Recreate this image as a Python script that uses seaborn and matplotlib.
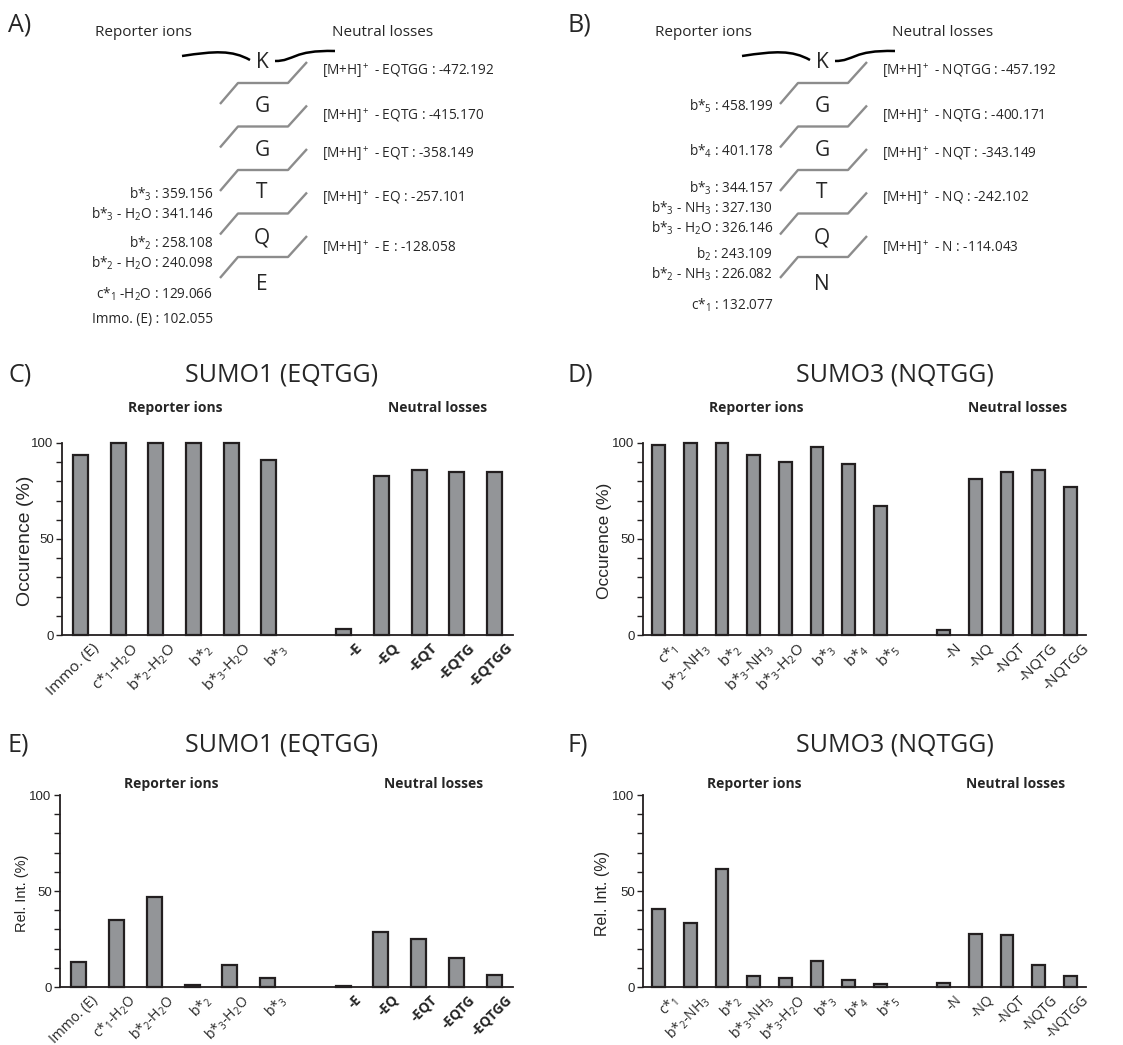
import numpy as np
import pandas as pd
import matplotlib
matplotlib.use('Agg')
import matplotlib.pyplot as plt
import seaborn as sns
from matplotlib.path import Path
from matplotlib.patches import PathPatch
from matplotlib.transforms import ScaledTranslation

sns.set_theme(style='ticks')
plt.rcParams['font.family'] = ['Open Sans', 'DejaVu Sans']
plt.rcParams['mathtext.fontset'] = 'custom'
plt.rcParams['mathtext.rm'] = 'Open Sans'
plt.rcParams['mathtext.it'] = 'Open Sans'
plt.rcParams['mathtext.bf'] = 'Open Sans:bold'

# --- bar chart data (C-F) ---
sumo1_reporters = ['Immo. (E)', r'c*$_1$-H$_2$O', r'b*$_2$-H$_2$O', r'b*$_2$',
                   r'b*$_3$-H$_2$O', r'b*$_3$']
sumo1_losses = ['-E', '-EQ', '-EQT', '-EQTG', '-EQTGG']
sumo1_occ_rep = [93.5, 100, 100, 100, 100, 91]
sumo1_occ_loss = [3.3, 82.6, 86.1, 85, 85]
sumo1_int_rep = [12.9, 34.8, 46.7, 1.0, 11.7, 4.7]
sumo1_int_loss = [0.5, 28.6, 25.1, 15.2, 6.4]

sumo3_reporters = [r'c*$_1$', r'b*$_2$-NH$_3$', r'b*$_2$', r'b*$_3$-NH$_3$',
                   r'b*$_3$-H$_2$O', r'b*$_3$', r'b*$_4$', r'b*$_5$']
sumo3_losses = ['-N', '-NQ', '-NQT', '-NQTG', '-NQTGG']
sumo3_occ_rep = [99.1, 100, 100, 93.6, 90.1, 97.9, 89, 67.2]
sumo3_occ_loss = [2.4, 81.5, 84.8, 85.9, 77]
sumo3_int_rep = [40.8, 33.3, 61.5, 5.6, 4.7, 13.6, 3.7, 1.4]
sumo3_int_loss = [2.3, 27.7, 27.2, 11.7, 5.6]

# --- schematic text (A, B) ---
residues_A = ['K', 'G', 'G', 'T', 'Q', 'E']
residues_B = ['K', 'G', 'G', 'T', 'Q', 'N']
losses_A = [r'[M+H]$^+$ - EQTGG : -472.192', r'[M+H]$^+$ - EQTG : -415.170',
            r'[M+H]$^+$ - EQT : -358.149', r'[M+H]$^+$ - EQ : -257.101',
            r'[M+H]$^+$ - E : -128.058']
losses_B = [r'[M+H]$^+$ - NQTGG : -457.192', r'[M+H]$^+$ - NQTG : -400.171',
            r'[M+H]$^+$ - NQT : -343.149', r'[M+H]$^+$ - NQ : -242.102',
            r'[M+H]$^+$ - N : -114.043']
reporters_A = [r'b*$_3$ : 359.156', r'b*$_3$ - H$_2$O : 341.146', r'b*$_2$ : 258.108',
               r'b*$_2$ - H$_2$O : 240.098', r'c*$_1$ -H$_2$O : 129.066',
               'Immo. (E) : 102.055']
reporters_B = [r'b*$_5$ : 458.199', r'b*$_4$ : 401.178', r'b*$_3$ : 344.157',
               r'b*$_3$ - NH$_3$ : 327.130', r'b*$_3$ - H$_2$O : 326.146',
               r'b$_2$ : 243.109', r'b*$_2$ - NH$_3$ : 226.082', r'c*$_1$ : 132.077']

W, H = 1123, 1045
fig = plt.figure(figsize=(W / 100, H / 100), dpi=100)
ov = fig.add_axes([0, 0, 1, 1])
ov.set_xlim(0, W)
ov.set_ylim(H, 0)
ov.axis('off')

grey = '#8c8c8c'


def schematic(x0, letter, residues, losses, reporters, rep_y):
    ov.text(x0 + 8, 25, letter, fontsize=18, va='center', ha='left')
    ov.text(x0 + 143, 32, 'Reporter ions', fontsize=11, ha='center', va='center')
    ov.text(x0 + 383, 32, 'Neutral losses', fontsize=11, ha='center', va='center')
    # squiggles either side of the K
    verts = [(x0 + 182, 56), (x0 + 215, 51), (x0 + 232, 50), (x0 + 250, 60)]
    ov.add_patch(PathPatch(Path(verts, [Path.MOVETO, Path.CURVE4, Path.CURVE4, Path.CURVE4]),
                           fc='none', ec='black', lw=1.8))
    verts = [(x0 + 275, 61), (x0 + 295, 61), (x0 + 292, 50), (x0 + 335, 51)]
    ov.add_patch(PathPatch(Path(verts, [Path.MOVETO, Path.CURVE4, Path.CURVE4, Path.CURVE4]),
                           fc='none', ec='black', lw=1.8))
    res_y = [62, 107, 150, 193, 238, 285]
    for r, y in zip(residues, res_y):
        ov.text(x0 + 262, y, r, fontsize=15, ha='center', va='center')
    for i in range(5):
        y = 83 + 43.5 * i
        ov.plot([x0 + 220, x0 + 238, x0 + 288, x0 + 307], [y + 21, y, y, y - 21],
                color=grey, lw=1.7, solid_capstyle='butt')
    for t, y in zip(losses, [71, 116, 154, 198, 248]):
        ov.text(x0 + 322, y, t, fontsize=9.8, ha='left', va='center')
    for t, y in zip(reporters, rep_y):
        ov.text(x0 + 213, y, t, fontsize=9.8, ha='right', va='center')


schematic(0, 'A)', residues_A, losses_A, reporters_A, [194, 214, 243, 263, 294, 320])
schematic(560, 'B)', residues_B, losses_B, reporters_B, [106, 151, 188, 208, 228, 254, 274, 305])


def bar_panel(left, right, top, bottom, reporters, losses, rep_vals, loss_vals,
              ylabel, ylabel_size, ylabel_x, bold_losses, tick_size):
    ax = fig.add_axes([left / W, 1 - bottom / H, (right - left) / W, (bottom - top) / H])
    order = reporters + [' '] + losses
    df = pd.DataFrame({'ion': reporters + losses, 'value': rep_vals + loss_vals})
    sns.barplot(data=df, x='ion', y='value', order=order, color='#939598', saturation=1,
                edgecolor='#231f20', linewidth=1.6, width=0.4, ax=ax)
    for p in ax.patches:
        p.set_clip_on(False)
    ax.set_ylim(0, 100)
    ax.set_xlim(-0.5, len(order) - 0.5)
    ax.set_yticks([0, 50, 100])
    ax.set_yticks(range(0, 101, 10), minor=True)
    ax.set_yticklabels(['0', '50', '100'], fontfamily='Liberation Sans', fontsize=9.5)
    ax.tick_params(axis='y', which='both', length=4, width=1, direction='out', pad=2,
                   color='#231f20')
    ax.tick_params(axis='x', length=0, pad=4)
    ax.set_xticks(range(len(order)))
    labs = ax.set_xticklabels(order, rotation=45, ha='right', va='top',
                              rotation_mode='anchor', fontsize=tick_size)
    for i, lb in enumerate(labs):
        lb.set_transform(lb.get_transform() + ScaledTranslation(0.11, 0, fig.dpi_scale_trans))
        if bold_losses and i > len(reporters):
            lb.set_fontweight('bold')
    ax.set_xlabel('')
    ax.set_ylabel('')
    sns.despine(ax=ax)
    for s in ['left', 'bottom']:
        ax.spines[s].set_linewidth(1.3)
        ax.spines[s].set_color('#231f20')
    ax.set_facecolor('none')
    ov.text(ylabel_x, (top + bottom) / 2 + 2, ylabel, rotation=90, ha='center', va='center',
            fontfamily='Liberation Sans', fontsize=ylabel_size)
    return ax


def headers(x0, y0, letter, title, title_x, rep_x, loss_x, head_y):
    ov.text(x0 + 8, y0, letter, fontsize=18, ha='left', va='center')
    ov.text(title_x, y0, title, fontsize=18, ha='center', va='center')
    ov.text(rep_x, head_y, 'Reporter ions', fontsize=10, fontweight='bold', ha='center', va='center')
    ov.text(loss_x, head_y, 'Neutral losses', fontsize=10, fontweight='bold', ha='center', va='center')


headers(0, 375, 'C)', 'SUMO1 (EQTGG)', 282, 175, 438, 408)
headers(560, 375, 'D)', 'SUMO3 (NQTGG)', 895, 756, 1018, 408)
headers(0, 745, 'E)', 'SUMO1 (EQTGG)', 282, 171, 434, 784)
headers(560, 745, 'F)', 'SUMO3 (NQTGG)', 895, 754, 1016, 784)

bar_panel(62, 513, 443, 635, sumo1_reporters, sumo1_losses, sumo1_occ_rep, sumo1_occ_loss,
          'Occurence (%)', 14, 25, True, 11)
bar_panel(643, 1086, 443, 635, sumo3_reporters, sumo3_losses, sumo3_occ_rep, sumo3_occ_loss,
          'Occurence (%)', 12.5, 605, False, 11)
bar_panel(60, 513, 795, 987, sumo1_reporters, sumo1_losses, sumo1_int_rep, sumo1_int_loss,
          'Rel. Int. (%)', 10.5, 22, True, 10)
bar_panel(643, 1086, 795, 987, sumo3_reporters, sumo3_losses, sumo3_int_rep, sumo3_int_loss,
          'Rel. Int. (%)', 11.5, 603, False, 10)

fig.savefig('out.png', dpi=100)
